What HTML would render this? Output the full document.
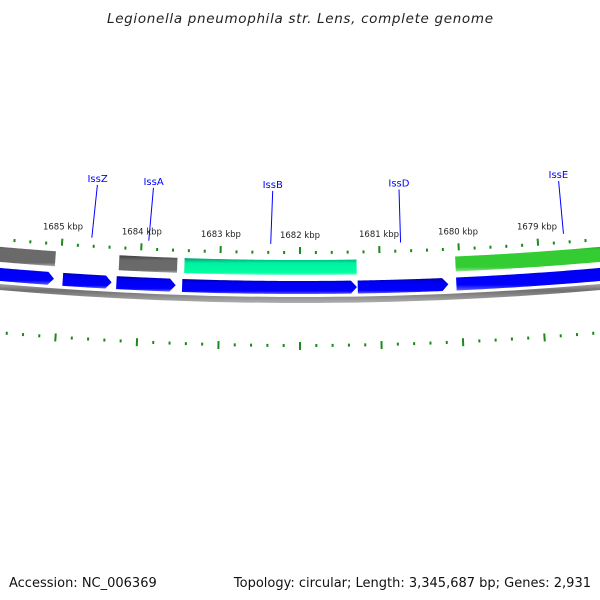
<!DOCTYPE html>
<html><head><meta charset="utf-8"><style>
html,body{margin:0;padding:0;background:#fff;}
svg{display:block;}
text{font-family:"DejaVu Sans","Liberation Sans",sans-serif;}
</style></head><body>
<svg id="chart" width="600" height="600" viewBox="0 0 600 600" xmlns="http://www.w3.org/2000/svg">
<defs>
<linearGradient id="gBlue" x1="0" y1="0" x2="0" y2="1"><stop offset="0" stop-color="#0000a0"/><stop offset="0.25" stop-color="#0000f0"/><stop offset="0.8" stop-color="#0000ff"/><stop offset="1" stop-color="#6060ff"/></linearGradient>
<linearGradient id="gGray" x1="0" y1="0" x2="0" y2="1"><stop offset="0" stop-color="#404040"/><stop offset="0.3" stop-color="#6a6a6a"/><stop offset="0.85" stop-color="#6a6a6a"/><stop offset="1" stop-color="#aaaaaa"/></linearGradient>
<linearGradient id="gTeal" x1="0" y1="0" x2="0" y2="1"><stop offset="0" stop-color="#00a070"/><stop offset="0.3" stop-color="#00f0a0"/><stop offset="0.85" stop-color="#00ffa0"/><stop offset="1" stop-color="#80ffd0"/></linearGradient>
<linearGradient id="gGreen" x1="0" y1="0" x2="0" y2="1"><stop offset="0" stop-color="#208020"/><stop offset="0.3" stop-color="#33cc33"/><stop offset="0.85" stop-color="#33cc33"/><stop offset="1" stop-color="#90e090"/></linearGradient>
<linearGradient id="gBack" x1="0" y1="0" x2="0" y2="1"><stop offset="0" stop-color="#d0d0d0"/><stop offset="0.5" stop-color="#707070"/><stop offset="1" stop-color="#b0b0b0"/></linearGradient>
</defs>
<text x="300" y="23" text-anchor="middle" font-size="13.5" font-style="italic" fill="#222" textLength="386">Legionella pneumophila str. Lens, complete genome</text>
<g id="layer"></g>
<text x="9" y="587" font-size="13" fill="#111">Accession: NC_006369</text>
<text x="591" y="587" text-anchor="end" font-size="13" fill="#111">Topology: circular; Length: 3,345,687 bp; Genes: 2,931</text>
</svg>
<script>
const tickLabels = [1685, 1684, 1683, 1682, 1681, 1680, 1679];
const majorTicks = [1686, 1685, 1684, 1683, 1682, 1681, 1680, 1679, 1678];
const topStarts = [1686.4, 1684.27, 1683.45, 1680.05];
const topEnds   = [1685.07, 1683.54, 1681.29, 1677.5];
const topColors = ["gGray", "gGray", "gTeal", "gGreen"];
const blueStarts = [1686.4, 1684.96, 1684.29, 1683.47, 1681.28, 1680.05];
const blueEnds   = [1685.07, 1684.35, 1683.55, 1681.29, 1680.15, 1677.5];
const blueArrow  = [true, true, true, true, true, false];
const geneNames = ["IssZ", "IssA", "IssB", "IssD", "IssE"];
const genePos   = [1684.63, 1683.91, 1682.37, 1680.73, 1678.67];
const geneLabelPos = [1684.60, 1683.88, 1682.35, 1680.73, 1678.68];

const R0 = 3468, CX = 300, CY = 300 - R0, PX = 80.5, REF = 1682;
function ang(p){ return (REF - p) * PX / R0; }
function pt(p, off){ const a = ang(p), r = R0 + off; return [CX + r*Math.sin(a), CY + r*Math.cos(a)]; }
const NS = "http://www.w3.org/2000/svg";
const layer = document.getElementById('layer');
function mk(tag, attrs){ const e = document.createElementNS(NS, tag); for (const k in attrs) e.setAttribute(k, attrs[k]); layer.appendChild(e); return e; }
function band(p1, p2, o1, o2, arrow){
  const pts = [], n = 40;
  const tip = arrow ? 6/PX : 0;
  const bodyEnd = p2 + tip;
  for (let i=0;i<=n;i++){ pts.push(pt(p1 + (bodyEnd-p1)*i/n, o1)); }
  if (arrow) pts.push(pt(p2, (o1+o2)/2));
  for (let i=n;i>=0;i--){ pts.push(pt(p1 + (bodyEnd-p1)*i/n, o2)); }
  return pts.map(q=>q[0].toFixed(2)+","+q[1].toFixed(2)).join(" ");
}
let bb = mk('polygon', {points: band(1686.5, 1677.5, -3, 3, false), fill: 'url(#gBack)'});


for (let i=0;i<topStarts.length;i++){
  const e = mk('polygon', {points: band(topStarts[i], topEnds[i], -40, -25, false), fill: 'url(#'+topColors[i]+')'});
  
  
}
for (let i=0;i<blueStarts.length;i++){
  const e = mk('polygon', {points: band(blueStarts[i], blueEnds[i], -19, -6, blueArrow[i]), fill: 'url(#gBlue)'});
  
  
}
for (let t=0;t<majorTicks.length;t++){
  for (let k=0;k<5;k++){
    const p = majorTicks[t] - k*0.2;
    const major = k===0;
    [[-53,-46,-49,-46],[42,50,44,47]].forEach((o,ring)=>{
      const a = pt(p, major?o[0]:o[2]), b = pt(p, major?o[1]:o[3]);
      const ln = mk('line', {x1:a[0],y1:a[1],x2:b[0],y2:b[1],stroke:'#1a8a1a','stroke-width':2});
      
      
    });
  }
}
for (let i=0;i<tickLabels.length;i++){
  const q = pt(tickLabels[i], -62);
  const tx = mk('text', {x:q[0], y:q[1], 'text-anchor':'middle', 'font-size':'8.5', fill:'#222'});
  tx.textContent = tickLabels[i] + ' kbp';
  
  
}
for (let i=0;i<geneNames.length;i++){
  const a = pt(genePos[i], -56), b = pt(geneLabelPos[i], -109);
  const ln = mk('line', {x1:a[0],y1:a[1],x2:b[0],y2:b[1],stroke:'#0000ff','stroke-width':1});
  
  
  const c = pt(geneLabelPos[i], -112);
  const tx = mk('text', {x:c[0], y:c[1], 'text-anchor':'middle', 'font-size':'10', fill:'#0000ff'});
  tx.textContent = geneNames[i];
  
  
}
</script>
</body></html>
